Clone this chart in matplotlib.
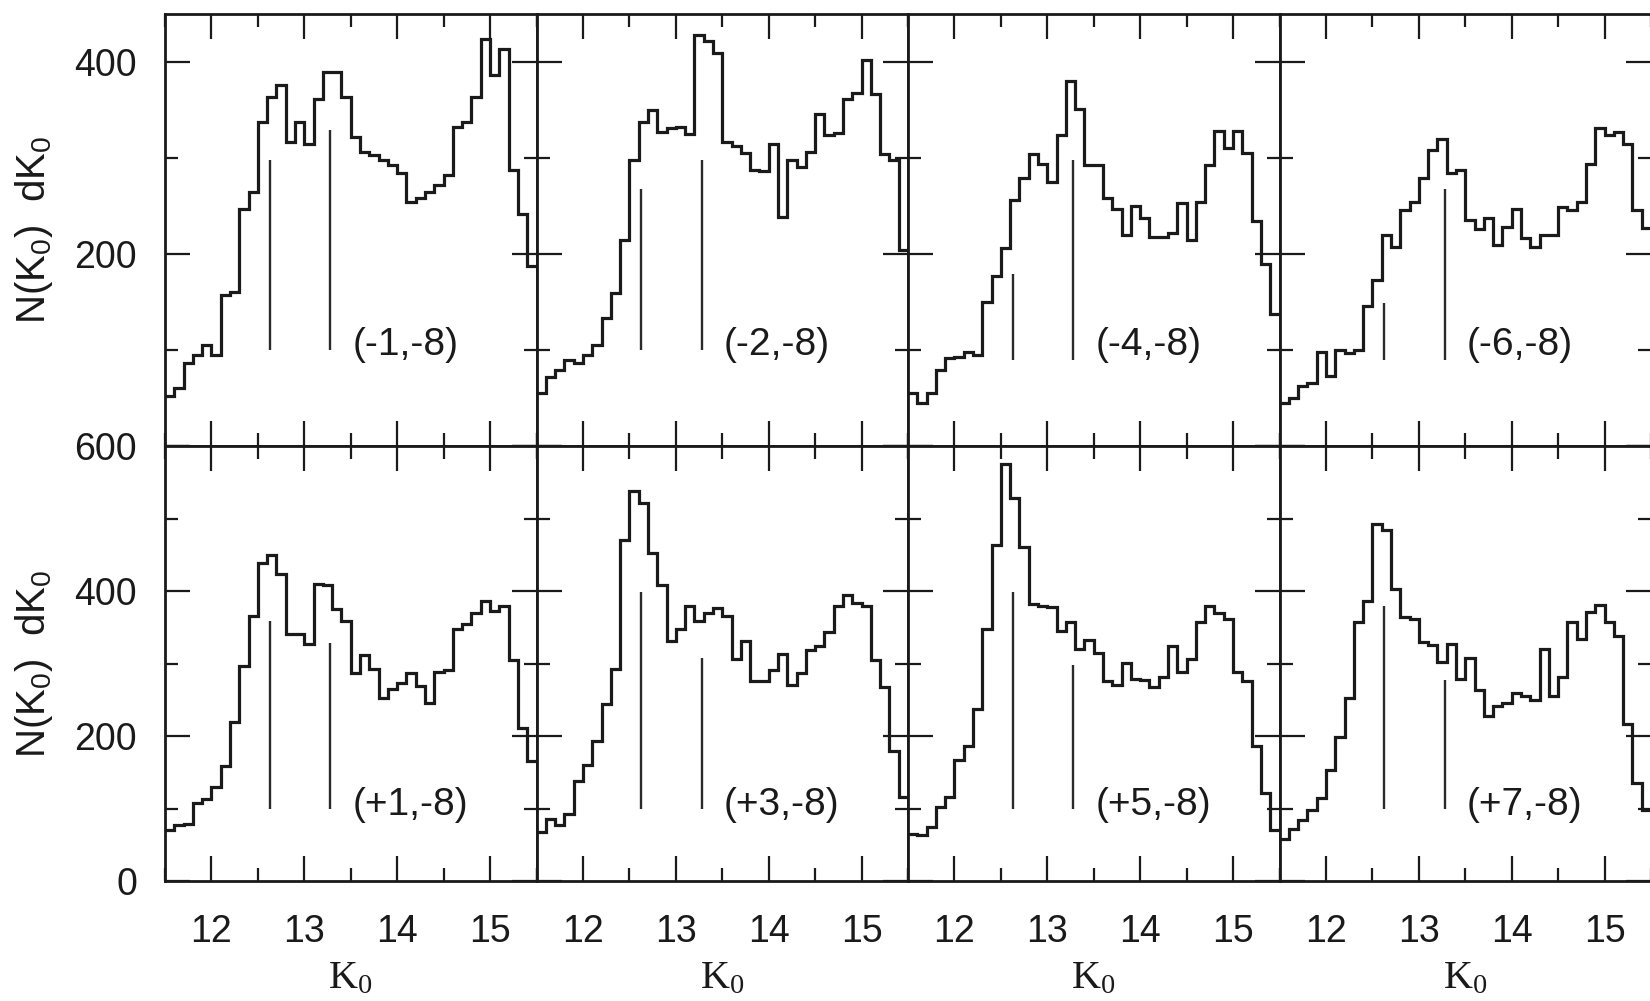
import matplotlib
matplotlib.use('Agg')
import matplotlib.pyplot as plt
from matplotlib.ticker import MultipleLocator
import numpy as np

plt.rcParams['font.family'] = ['Liberation Sans', 'DejaVu Sans']
plt.rcParams['mathtext.default'] = 'regular'

# ---------------- data ----------------
bin_start = 11.5
bin_width = 0.1
n_bins = 40

panel_labels = ['(-1,-8)', '(-2,-8)', '(-4,-8)', '(-6,-8)',
                '(+1,-8)', '(+3,-8)', '(+5,-8)', '(+7,-8)']

counts_m1 = [52, 60, 86, 95, 105, 95, 157, 160, 247, 265, 338, 364, 376, 317, 338, 315, 361, 390, 390, 364,
             322, 306, 303, 298, 293, 284, 254, 258, 265, 272, 282, 332, 338, 364, 424, 386, 414, 287, 242, 187]
counts_m2 = [55, 72, 79, 90, 86, 95, 105, 133, 159, 215, 298, 337, 350, 327, 331, 332, 325, 428, 422, 409,
             317, 312, 305, 287, 286, 315, 239, 298, 291, 306, 346, 324, 326, 361, 368, 402, 367, 304, 298, 204]
counts_m4 = [55, 45, 55, 79, 92, 93, 98, 95, 150, 177, 206, 256, 279, 304, 294, 275, 324, 380, 351, 293,
             293, 258, 247, 220, 250, 237, 218, 218, 222, 253, 215, 254, 293, 328, 310, 328, 305, 234, 190, 138]
counts_m6 = [45, 50, 62, 66, 98, 73, 100, 97, 100, 146, 173, 220, 207, 246, 254, 279, 308, 320, 284, 287,
             235, 226, 237, 209, 228, 247, 217, 207, 220, 220, 249, 246, 254, 294, 331, 324, 327, 315, 246, 227]
counts_p1 = [70, 77, 79, 108, 113, 130, 159, 219, 297, 365, 438, 449, 424, 341, 341, 327, 409, 408, 375, 359,
             287, 312, 293, 253, 265, 273, 287, 269, 246, 288, 291, 348, 355, 369, 386, 372, 380, 305, 211, 165]
counts_p3 = [68, 86, 77, 93, 138, 160, 193, 244, 293, 470, 538, 521, 453, 408, 331, 348, 379, 358, 369, 376,
             366, 306, 331, 276, 276, 291, 313, 271, 287, 318, 324, 343, 380, 394, 384, 380, 305, 268, 180, 116]
counts_p5 = [65, 63, 75, 102, 116, 167, 186, 237, 348, 463, 575, 528, 461, 382, 380, 378, 345, 357, 320, 333,
             315, 276, 271, 301, 278, 277, 267, 281, 324, 288, 306, 357, 380, 369, 361, 288, 276, 186, 121, 70]
counts_p7 = [58, 72, 84, 98, 114, 153, 199, 253, 357, 386, 492, 484, 403, 364, 362, 329, 325, 302, 327, 278,
             308, 264, 227, 241, 245, 260, 255, 250, 320, 255, 281, 357, 334, 371, 381, 357, 338, 216, 135, 98]

all_counts = [counts_m1, counts_m2, counts_m4, counts_m6,
              counts_p1, counts_p3, counts_p5, counts_p7]

marker_x = [12.63, 13.28]
marker_tops = [[298, 329], [268, 298], [179, 298], [149, 268],
               [358, 328], [398, 308], [398, 298], [379, 277]]
marker_bottoms = [100, 100, 90, 90, 100, 100, 100, 100]

x_ticks = [12, 13, 14, 15]
x_tick_labels = ['12', '13', '14', '15']
y_ticks_top = [0, 200, 400]
y_tick_labels_top = ['', '200', '400']
y_ticks_bottom = [0, 200, 400, 600]
y_tick_labels_bottom = ['0', '200', '400', '600']
row_ymax = [450, 600]

x_label = 'K$_0$'
y_label = 'N(K$_0$)  dK$_0$'

# ---------------- figure ----------------
W, H = 1650, 1001
fig = plt.figure(figsize=(W / 100, H / 100), dpi=100)
ink = '#1a1a1a'

left_px = 165
panel_w = 371.5
row_px = [(14, 446), (446, 881)]

edges = bin_start + bin_width * np.arange(n_bins + 1)

for r in range(2):
    top_px, bot_px = row_px[r]
    for c in range(4):
        idx = r * 4 + c
        ax = fig.add_axes([(left_px + c * panel_w) / W, 1 - bot_px / H,
                           panel_w / W, (bot_px - top_px) / H])
        ax.stairs(all_counts[idx], edges, baseline=None, color=ink, lw=2.3)
        for xm, yt in zip(marker_x, marker_tops[idx]):
            ax.vlines(xm, marker_bottoms[idx], yt, color='#2a2a2a', lw=1.7)
        ax.text(13.52, 105, panel_labels[idx], ha='left', va='center',
                fontsize=28, color=ink)

        ax.set_xlim(11.5, 15.5)
        ax.set_ylim(0, row_ymax[r])

        if r == 1:
            ax.set_xticks(x_ticks, x_tick_labels)
        else:
            ax.set_xticks(x_ticks, [''] * len(x_ticks))
        ax.xaxis.set_minor_locator(MultipleLocator(0.5))
        if r == 0:
            ax.set_yticks(y_ticks_top, y_tick_labels_top if c == 0 else [''] * 3)
        else:
            ax.set_yticks(y_ticks_bottom, y_tick_labels_bottom if c == 0 else [''] * 4)
        ax.yaxis.set_minor_locator(MultipleLocator(100))

        ax.tick_params(which='both', direction='in', top=True, right=True,
                       width=1.6, color=ink, labelcolor=ink)
        ax.tick_params(which='major', length=18)
        ax.tick_params(which='minor', length=9.5)
        ax.tick_params(axis='y', pad=20, labelsize=27)
        ax.tick_params(axis='x', pad=24, labelsize=27)
        if r == 0:
            ax.tick_params(axis='x', labelbottom=False)
        for sp in ax.spines.values():
            sp.set_linewidth(2.0)
            sp.set_color(ink)

        if r == 1:
            ax.text(0.5, -0.225, x_label, transform=ax.transAxes, ha='center',
                    va='center', fontsize=29, family='Liberation Serif', color=ink)

    fig.text(34 / W, 1 - (top_px + bot_px) / 2 / H, y_label, rotation=90,
             ha='center', va='center', fontsize=29, color=ink)

fig.savefig('out.png', dpi=100)
